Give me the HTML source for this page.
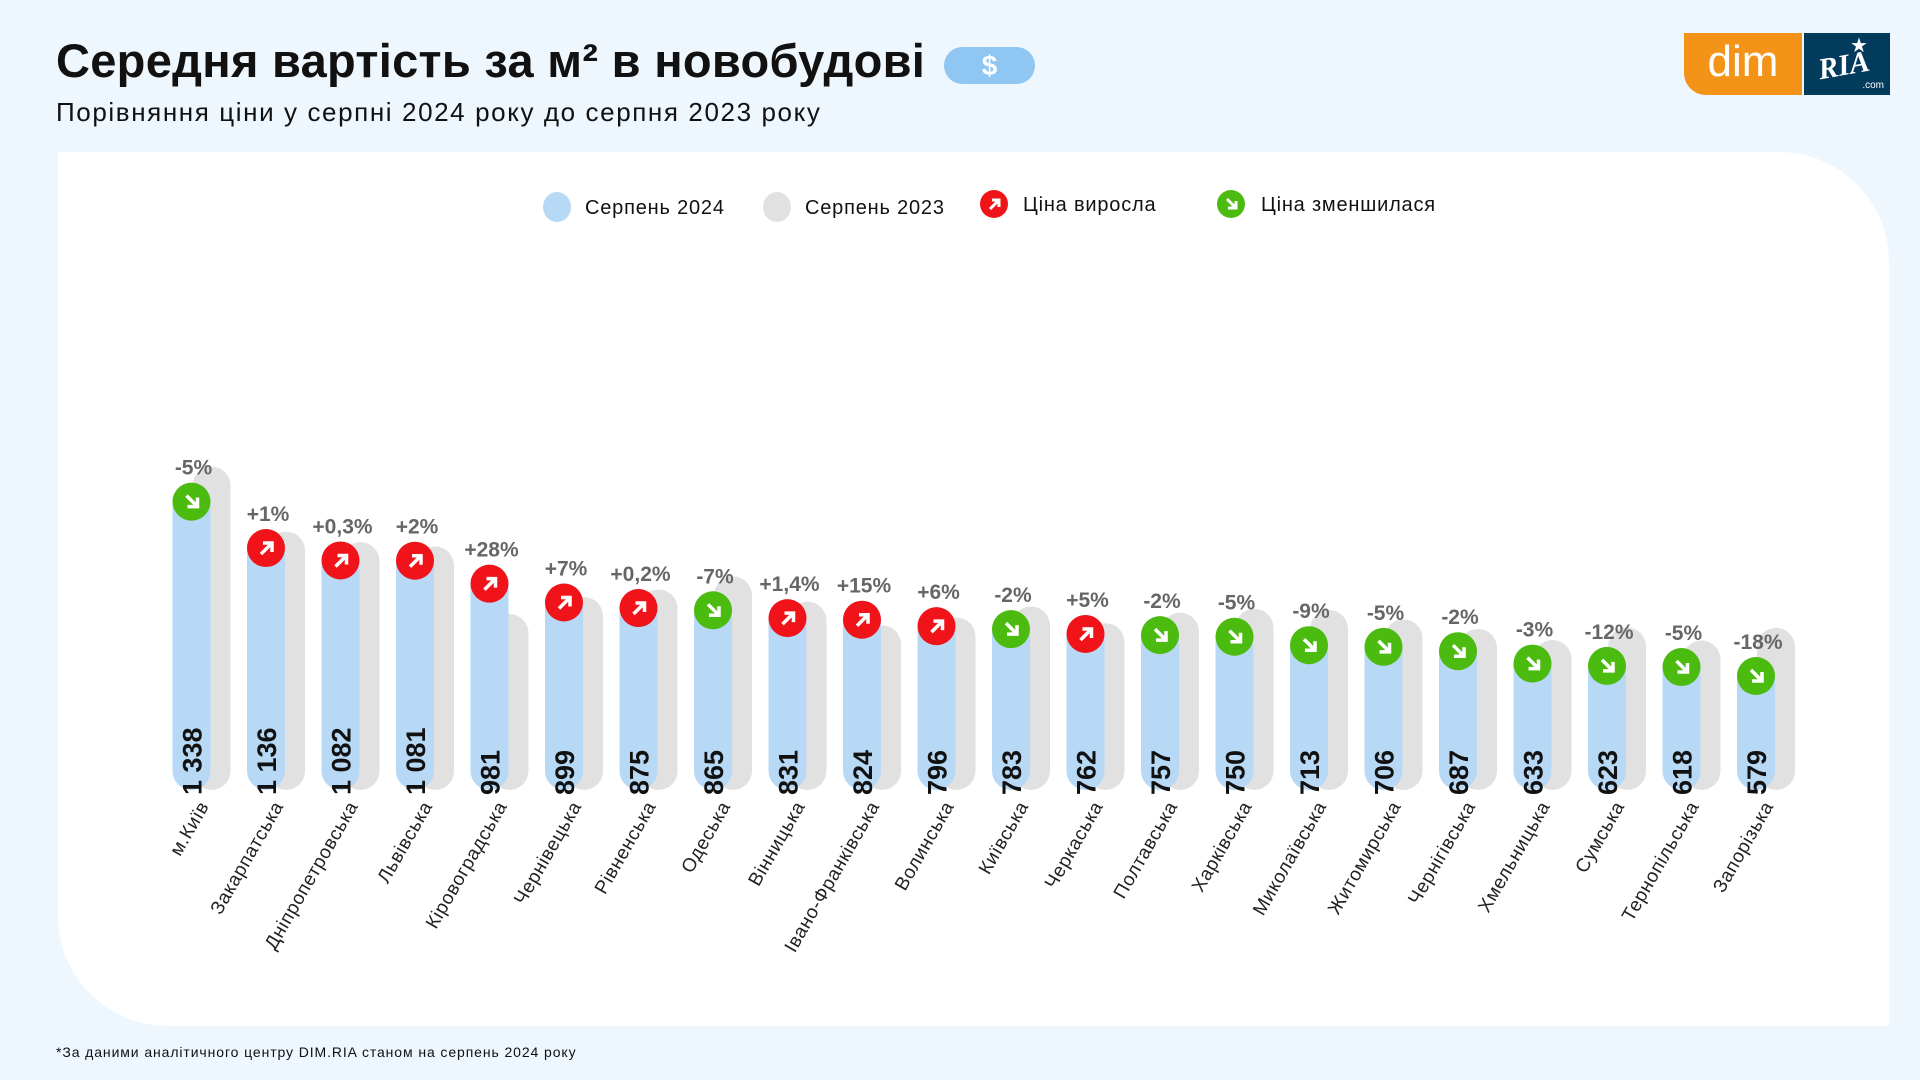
<!DOCTYPE html>
<html><head><meta charset="utf-8">
<style>
body{margin:0;width:1920px;height:1080px;background:#eef6fe;font-family:"Liberation Sans",sans-serif;overflow:hidden;position:relative}
.t{position:absolute;left:56px;top:33px;font-size:47px;font-weight:bold;color:#111;white-space:nowrap;letter-spacing:0.3px}
.pill{position:absolute;left:944px;top:47px;width:91px;height:37px;border-radius:19px;background:#8fc6f2;color:#fff;font-weight:bold;font-size:28px;text-align:center;line-height:37px}
.sub{position:absolute;left:56px;top:97px;font-size:26px;color:#111;letter-spacing:1.6px;white-space:nowrap}
.card{position:absolute;left:58px;top:152px;width:1831px;height:874px;background:#fff;border-radius:0 110px 0 110px}
.foot{position:absolute;left:56px;top:1044px;font-size:14px;color:#111;letter-spacing:0.9px;white-space:nowrap}
.dim{position:absolute;left:1684px;top:33px;width:118px;height:62px;background:#f39419;border-radius:0 0 0 22px;color:#fff;font-size:44px;text-align:center;line-height:58px}
.ria{position:absolute;left:1804px;top:33px;width:86px;height:62px;background:#033b5c;color:#fff}
</style></head><body>
<div class="t">Середня вартість за м² в новобудові</div>
<div class="pill">$</div>
<div class="sub">Порівняння ціни у серпні 2024 року до серпня 2023 року</div>
<div class="dim">dim</div>
<div class="ria"><div style="position:absolute;left:14px;top:16px;font:bold italic 30px 'Liberation Serif',serif;transform:rotate(-10deg)">RIA</div><div style="position:absolute;right:6px;bottom:4px;font-size:10px">.com</div><div style="position:absolute;left:46px;top:0px;font-size:20px">★</div></div>
<div class="card"></div>
<svg id="ch" width="1920" height="1080" style="position:absolute;left:0;top:0">
<g font-size="20" fill="#111" letter-spacing="0.8">
<ellipse cx="557" cy="207" rx="14" ry="15" fill="#b7d9f6"/>
<text x="585" y="214">Серпень 2024</text>
<ellipse cx="777" cy="207" rx="14" ry="15" fill="#e1e1e1"/>
<text x="805" y="214">Серпень 2023</text>
<circle cx="994" cy="204" r="14" fill="#f0141a"/>
<path d="M990,209 L998,201 M992,200 H999 V207" stroke="#fff" stroke-width="3" fill="none"/>
<text x="1023" y="211">Ціна виросла</text>
<circle cx="1231" cy="204" r="14" fill="#4cbb0f"/>
<path d="M1227,199 L1235,207 M1228,208 H1236 V201" stroke="#fff" stroke-width="3" fill="none"/>
<text x="1261" y="211">Ціна зменшилася</text>
</g>
<g id="bars"></g>
</svg>
<div class="foot">*За даними аналітичного центру DIM.RIA станом на серпень 2024 року</div>
<script>
const categories=["м.Київ","Закарпатська","Дніпропетровська","Львівська","Кіровоградська","Чернівецька","Рівненська","Одеська","Вінницька","Івано-Франківська","Волинська","Київська","Черкаська","Полтавська","Харківська","Миколаївська","Житомирська","Чернігівська","Хмельницька","Сумська","Тернопільська","Запорізька"];
const values2024=[1338,1136,1082,1081,981,899,875,865,831,824,796,783,762,757,750,713,706,687,633,623,618,579];
const values2023=[1408,1125,1079,1060,766,840,873,930,820,717,751,799,726,772,789,784,743,701,653,708,651,706];
const valueLabels=["1 338","1 136","1 082","1 081","981","899","875","865","831","824","796","783","762","757","750","713","706","687","633","623","618","579"];
const changeLabels=["-5%","+1%","+0,3%","+2%","+28%","+7%","+0,2%","-7%","+1,4%","+15%","+6%","-2%","+5%","-2%","-5%","-9%","-5%","-2%","-3%","-12%","-5%","-18%"];
const NS="http://www.w3.org/2000/svg";
const g=document.getElementById('bars');
const base=790,k=0.2297,bw=38,x0=172.5,step=74.5;
const y=v=>base-v*k;
const xb=i=>x0+i*step;
function mk(t,a,p){const e=document.createElementNS(NS,t);for(const q in a)e.setAttribute(q,a[q]);(p||g).appendChild(e);return e;}
function bar(x,top,fill){const r=bw/2;return mk('path',{d:`M${x},${top+r} a${r},${r} 0 0 1 ${bw},0 V${base-r} a${r},${r} 0 0 1 ${-bw},0 Z`,fill:fill});}
categories.forEach((c,i)=>{
  const x=xb(i);
  const gb=bar(x+20,y(values2023[i]),'#e1e1e1');
  
  
  const bb=bar(x,y(values2024[i]),'#b7d9f6');
  
  
  const cx=x+bw/2,cy=y(values2024[i])+bw/2;
  const up=changeLabels[i][0]==='+';
  const ci=mk('circle',{cx:cx,cy:cy,r:19,fill:up?'#f0141a':'#4cbb0f'});
  
  
  const ar=mk('path',{d:up?`M${cx-5},${cy+6} L${cx+5},${cy-4} M${cx-3},${cy-5} H${cx+6} V${cy+4}`:`M${cx-5},${cy-6} L${cx+5},${cy+4} M${cx-4},${cy+5} H${cx+6} V${cy-4}`,stroke:'#fff','stroke-width':3.5,fill:'none'});
  
  
  const pt=mk('text',{x:cx+2,y:cy-27,'text-anchor':'middle','font-size':21,'font-weight':'bold',fill:'#666'});
  pt.textContent=changeLabels[i];
  
  
  const vt=mk('text',{transform:`translate(${cx+10},${base+5}) rotate(-90)`,'font-size':27,'font-weight':'bold',fill:'#111'});
  vt.textContent=valueLabels[i];
  
  
  const ct=mk('text',{transform:`translate(${cx+18},${base+16}) rotate(-60)`,'text-anchor':'end','font-size':19,fill:'#222','letter-spacing':0.6});
  ct.textContent=c;
  
  
});
</script>
</body></html>
